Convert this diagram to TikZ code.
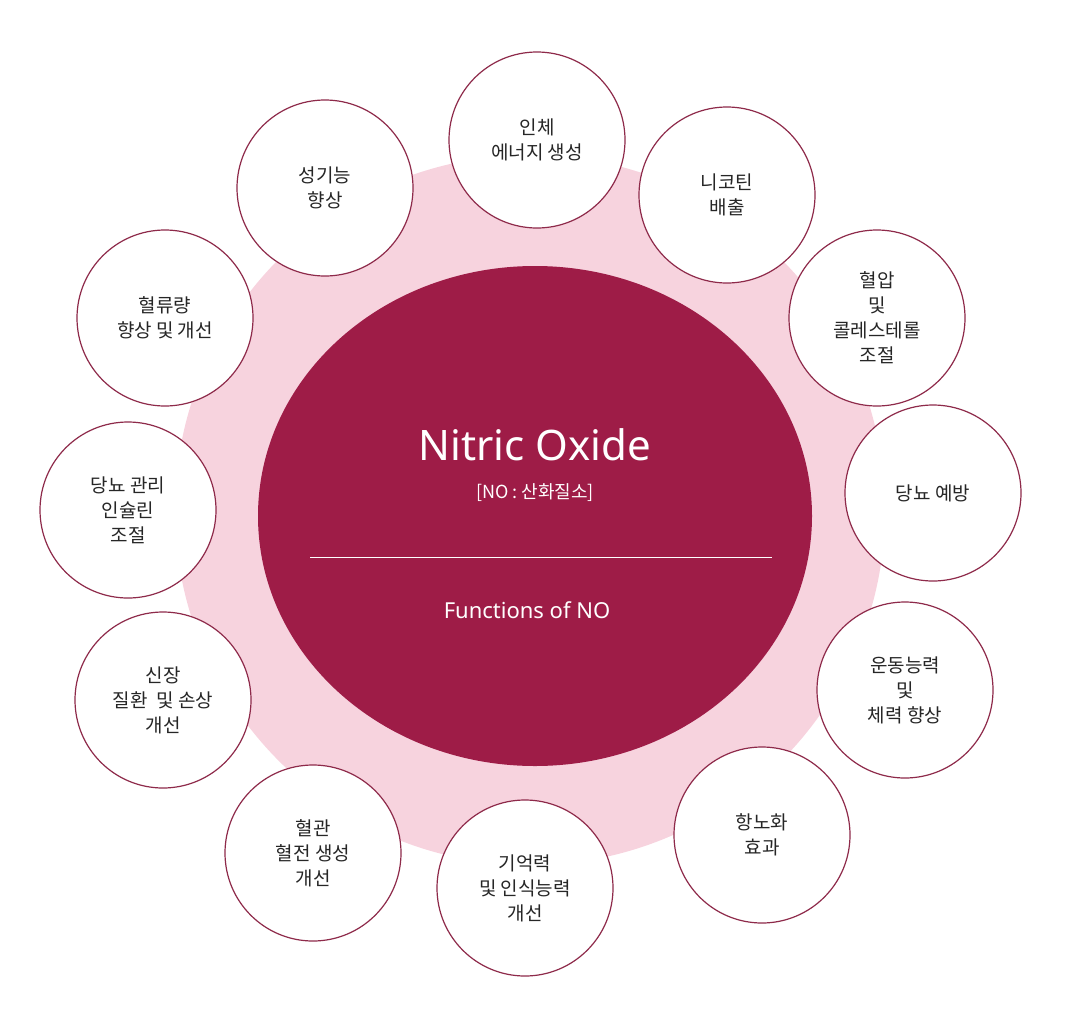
\documentclass[tikz,border=0pt]{standalone}
\usepackage{fontspec}
\newfontfamily\kr{Noto Sans CJK KR}
\setmainfont{Noto Sans}
\definecolor{wine}{HTML}{9E1C47}
\definecolor{blush}{HTML}{F7D3DE}
\definecolor{rim}{HTML}{8E2A4A}
\begin{document}
\begin{tikzpicture}[x=1pt,y=-1pt,
  fn/.style={circle,draw=rim,line width=1.2pt,fill=white,minimum size=176pt,align=center,font=\kr\fontsize{19}{25}\selectfont,text=black!85}]
\useasboundingbox (0,0) rectangle (1079,1028);
\fill[blush] (530,510) circle (355);
\fill[wine] (535,516) ellipse (277 and 250);
\node[text=white,font=\fontsize{42}{48}\selectfont] (t) at (535,445) {Nitric Oxide};
\node[text=white,font=\kr\fontsize{18}{22}\selectfont] (s) at (535,493) {[NO : 산화질소]};
\coordinate (l1) at (310,557); \coordinate (l2) at (772,557);
\draw[white,line width=1pt] (l1) -- (l2);
\node[text=white,font=\fontsize{22}{26}\selectfont] (f) at (527,610) {Functions of NO};
\node[fn] (c1) at (537,140) {인체\\에너지 생성};
\node[fn] (c2) at (727,195) {니코틴\\배출};
\node[fn] (c3) at (877,318) {혈압\\및\\콜레스테롤\\조절};
\node[fn] (c4) at (933,493) {당뇨 예방};
\node[fn] (c5) at (905,690) {운동능력\\및\\체력 향상};
\node[fn] (c6) at (762,835) {항노화\\효과};
\node[fn] (c7) at (525,888) {기억력\\및 인식능력\\개선};
\node[fn] (c8) at (313,853) {혈관\\혈전 생성\\개선};
\node[fn] (c9) at (163,700) {신장\\질환 \ 및 손상\\개선};
\node[fn] (c10) at (128,510) {당뇨 관리\\인슐린\\조절};
\node[fn] (c11) at (165,318) {혈류량\\향상 및 개선};
\node[fn] (c12) at (325,188) {성기능\\향상};
\end{tikzpicture}
\end{document}
